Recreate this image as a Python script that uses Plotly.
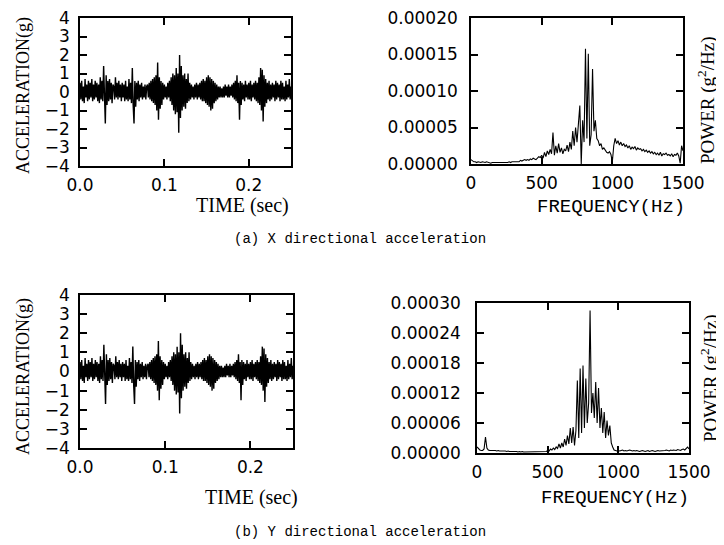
import plotly.graph_objects as go

# ---------------- data ----------------
dt = 0.001
accel_x = [
    0.5,-0.4,0.6,-0.5,0.3,-0.6,0.7,-0.3,0.4,-0.5,
    0.6,-0.4,0.5,-0.3,0.7,-0.5,0.4,-0.4,0.6,-0.3,
    0.5,-0.5,0.4,-0.6,0.8,-0.4,0.6,-0.5,1.4,-0.8,
    -1.7,0.9,-0.7,0.6,-0.5,0.7,-0.4,0.5,-0.6,0.4,
    0.3,-0.4,0.8,-0.3,0.5,-0.4,0.6,-0.3,0.4,-0.5,
    0.5,-0.3,0.4,-0.5,0.6,-0.4,0.3,-0.5,0.7,-0.4,
    0.5,-0.6,1.3,-0.7,-1.7,0.6,-0.8,0.5,-0.4,0.6,
    -0.5,0.4,-0.3,0.5,-0.4,0.3,-0.3,0.4,-0.4,0.3,
    0.4,-0.3,0.5,-0.4,0.6,-0.5,0.7,-0.6,0.8,-0.7,
    0.9,-1.0,1.6,-1.5,0.8,-0.9,0.6,-0.7,0.5,-0.4,
    0.4,-0.3,0.3,-0.4,0.5,-0.3,0.6,-0.5,0.8,-0.7,
    1.0,-1.0,0.9,-1.2,1.3,-1.1,1.0,-2.2,2.0,-1.4,
    1.4,-1.0,0.9,-0.8,1.0,-0.9,0.7,-0.6,1.0,-0.5,
    0.5,-0.4,0.4,-0.3,0.3,-0.4,0.4,-0.3,0.5,-0.4,
    0.4,-0.3,0.5,-0.4,0.6,-0.5,0.7,-0.5,0.6,-0.6,
    0.8,-0.7,0.9,-0.8,0.8,-1.0,0.7,-0.9,0.6,-0.6,
    0.5,-0.5,0.4,-0.4,0.3,-0.3,0.3,-0.3,0.2,-0.3,
    0.3,-0.3,0.4,-0.2,0.3,-0.3,0.4,-0.3,0.3,-0.2,
    0.4,-0.3,0.5,-0.4,0.6,-0.5,0.9,-0.6,0.5,-1.5,
    0.6,-0.7,0.5,-0.4,0.4,-0.5,0.6,-0.3,0.4,-0.4,
    0.5,-0.4,0.6,-0.5,0.4,-0.3,0.5,-0.4,0.6,-0.5,
    0.5,-0.6,0.8,-0.7,1.3,-1.0,1.2,-1.6,0.9,-0.8,
    0.7,-0.6,0.5,-0.4,0.6,-0.5,0.4,-0.4,0.5,-0.3,
    0.4,-0.5,0.6,-0.4,0.5,-0.3,0.4,-0.5,0.6,-0.4,
    0.5,-0.4,0.3,-0.5,0.6,-0.4,0.4,-0.3,0.7,-0.4,
    0.3,
]
accel_y = list(accel_x)  # Y record drawn identically in the source figure
time_s = [i * dt for i in range(len(accel_x))]

df = 10
# power spectral density, units of 1e-5 g^2/Hz, every 10 Hz from 0 to 1500 Hz
psd_x_e5 = [
    0.6,0.4,0.3,0.3,0.2,0.3,0.2,0.2,0.3,0.2,
    0.2,0.3,0.2,0.2,0.1,0.2,0.2,0.1,0.2,0.2,
    0.1,0.2,0.1,0.1,0.2,0.1,0.2,0.3,0.2,0.3,
    0.3,0.4,0.3,0.4,0.3,0.5,0.4,0.5,0.6,0.5,
    0.6,0.5,0.7,0.6,0.8,0.7,0.6,0.8,1.0,0.9,
    1.2,0.8,1.6,1.0,1.8,1.3,2.0,1.4,4.3,1.2,
    2.5,1.5,2.8,1.6,2.2,1.4,2.0,1.8,2.6,1.7,
    3.0,2.0,4.5,2.5,5.0,3.0,5.5,8.0,0.0,6.0,
    3.0,15.8,3.5,15.1,2.5,4.0,13.0,4.5,6.0,3.5,
    3.2,2.5,2.8,2.0,2.2,1.8,1.6,1.5,1.7,1.3,
    0.3,2.5,3.5,2.8,3.2,2.6,3.0,2.5,2.8,2.4,
    2.6,2.2,2.5,2.0,2.3,2.1,2.4,1.9,2.2,2.0,
    2.1,1.8,2.0,1.7,1.9,1.6,1.8,1.5,1.7,1.4,
    1.6,1.3,1.5,1.2,1.6,1.1,1.4,1.3,1.5,1.2,
    1.3,1.1,1.4,1.0,1.3,1.2,1.5,1.1,0.1,2.5,
    1.8,
]
psd_y_e5 = [
    1.2,0.8,0.6,0.5,0.5,0.8,3.2,1.0,0.6,0.5,
    0.5,0.6,0.5,0.5,0.4,0.5,0.4,0.4,0.5,0.4,
    0.4,0.3,0.4,0.3,0.3,0.4,0.3,0.3,0.3,0.2,
    0.3,0.2,0.3,0.2,0.2,0.3,0.2,0.2,0.3,0.2,
    0.2,0.3,0.2,0.2,0.2,0.3,0.2,0.2,0.3,0.3,
    0.5,0.4,0.8,0.6,1.0,0.7,1.2,0.9,1.8,1.0,
    2.0,1.2,2.8,1.5,3.5,1.8,5.0,2.0,5.2,1.5,
    4.5,14.5,3.0,16.9,4.0,17.5,5.0,14.9,6.0,10.0,
    28.5,8.0,12.0,7.0,14.2,6.0,13.0,5.0,9.0,4.0,
    8.2,3.0,6.5,3.5,5.5,2.0,1.2,0.6,0.5,0.4,
    0.5,0.4,0.5,0.6,0.4,0.5,0.4,0.5,0.6,0.5,
    0.4,0.5,0.4,0.5,0.4,0.3,0.4,0.5,0.4,0.3,
    0.4,0.5,0.3,0.4,0.5,0.4,0.3,0.4,0.5,0.4,
    0.4,0.5,0.4,0.5,0.6,0.5,0.4,0.6,0.5,0.6,
    0.6,0.5,0.7,0.6,0.5,0.7,0.8,0.6,1.0,1.2,
    0.8,
]
freq_hz = [i * df for i in range(len(psd_x_e5))]
psd_x = [v * 1e-5 for v in psd_x_e5]
psd_y = [v * 1e-5 for v in psd_y_e5]

accel_ticks = [4, 3, 2, 1, 0, -1, -2, -3, -4]
accel_ticklabels = ["4", "3", "2", "1", "0", "\u22121", "\u22122", "\u22123", "\u22124"]
time_ticks = [0.0, 0.1, 0.2]
time_ticklabels = ["0.0", "0.1", "0.2"]
freq_ticks = [0, 500, 1000, 1500]
psd_x_ticks = [0.0, 0.00005, 0.00010, 0.00015, 0.00020]
psd_x_ticklabels = ["0.00000", "0.00005", "0.00010", "0.00015", "0.00020"]
psd_y_ticks = [0.0, 0.00006, 0.00012, 0.00018, 0.00024, 0.00030]
psd_y_ticklabels = ["0.00000", "0.00006", "0.00012", "0.00018", "0.00024", "0.00030"]

# ---------------- figure ----------------
# the page body keeps its default 8px margin, so the figure sits at (8, 8)
OFF = 8
W, H = 724 - OFF, 545 - OFF
def fx(px):
    return (px - OFF) / W
def fy(py):
    return 1 - (py - OFF) / H

sig_line = dict(color="black", width=1.4)
psd_line = dict(color="black", width=1.1)
fig = go.Figure()
fig.add_trace(go.Scatter(x=time_s, y=accel_x, mode="lines", line=sig_line, xaxis="x", yaxis="y"))
fig.add_trace(go.Scatter(x=freq_hz, y=psd_x, mode="lines", line=psd_line, xaxis="x2", yaxis="y2"))
fig.add_trace(go.Scatter(x=time_s, y=accel_y, mode="lines", line=sig_line, xaxis="x3", yaxis="y3"))
fig.add_trace(go.Scatter(x=freq_hz, y=psd_y, mode="lines", line=psd_line, xaxis="x4", yaxis="y4"))

tickfont = dict(family="DejaVu Sans", size=17, color="black")
common = dict(showline=True, linecolor="black", linewidth=1.6, mirror="ticks",
              ticks="inside", ticklen=7, tickwidth=1.6, tickcolor="black",
              showgrid=False, zeroline=False, tickfont=tickfont, fixedrange=True,
              automargin=False, ticklabeloverflow="allow")

boxes = {
    1: (80, 291, 18, 166),
    2: (471, 683, 18, 164),
    3: (80, 293, 295, 448),
    4: (477, 689, 303, 453),
}
layout = dict(width=W, height=H,
              margin=dict(l=0, r=0, t=0, b=0, pad=0, autoexpand=False),
              paper_bgcolor="white", plot_bgcolor="white", showlegend=False)
for k, (l, r, t, b) in boxes.items():
    xs = "xaxis" if k == 1 else f"xaxis{k}"
    ys = "yaxis" if k == 1 else f"yaxis{k}"
    ya = "y" if k == 1 else f"y{k}"
    xa = "x" if k == 1 else f"x{k}"
    xd = dict(common, domain=[fx(l), fx(r)], anchor=ya, ticklabelstandoff=3)
    yd = dict(common, domain=[fy(b), fy(t)], anchor=xa)
    if k in (1, 3):
        xd.update(range=[0, 0.25], tickvals=time_ticks, ticktext=time_ticklabels)
        yd.update(range=[-4, 4], tickvals=accel_ticks, ticktext=accel_ticklabels,
                  ticklabelstandoff=5)
    elif k == 2:
        xd.update(range=[0, 1500], tickvals=freq_ticks)
        yd.update(range=[0, 0.0002], tickvals=psd_x_ticks, ticktext=psd_x_ticklabels,
                  ticklabelstandoff=8)
    else:
        xd.update(range=[0, 1500], tickvals=freq_ticks)
        yd.update(range=[0, 0.0003], tickvals=psd_y_ticks, ticktext=psd_y_ticklabels,
                  ticklabelstandoff=11)
    layout[xs] = xd
    layout[ys] = yd

def ann(text, x, y, size, family, angle=0):
    return dict(text=text, x=fx(x), y=fy(y), xref="paper", yref="paper",
                showarrow=False, textangle=angle, xanchor="center", yanchor="middle",
                font=dict(family=family, size=size, color="black"))

serif = "Liberation Serif"
mono = "Liberation Mono"
layout["annotations"] = [
    ann("ACCELERATION(g)", 23, 96, 18, serif, -90),
    ann("ACCELERATION(g)", 23, 377, 18, serif, -90),
    ann("TIME (sec)", 243, 205, 20, serif),
    ann("TIME (sec)", 252, 497, 20, serif),
    ann("FREQUENCY(Hz)", 611, 207, 19, mono),
    ann("FREQUENCY(Hz)", 615, 498, 19, mono),
    ann("POWER (g<sup>2</sup>/Hz)", 706, 100, 19, serif, -90),
    ann("POWER (g<sup>2</sup>/Hz)", 709, 378, 19, serif, -90),
    ann("(a) X directional acceleration", 360, 239, 14, mono),
    ann("(b) Y directional acceleration", 360, 532, 14, mono),
]
fig.update_layout(**layout)
fig.write_html("out.html")
